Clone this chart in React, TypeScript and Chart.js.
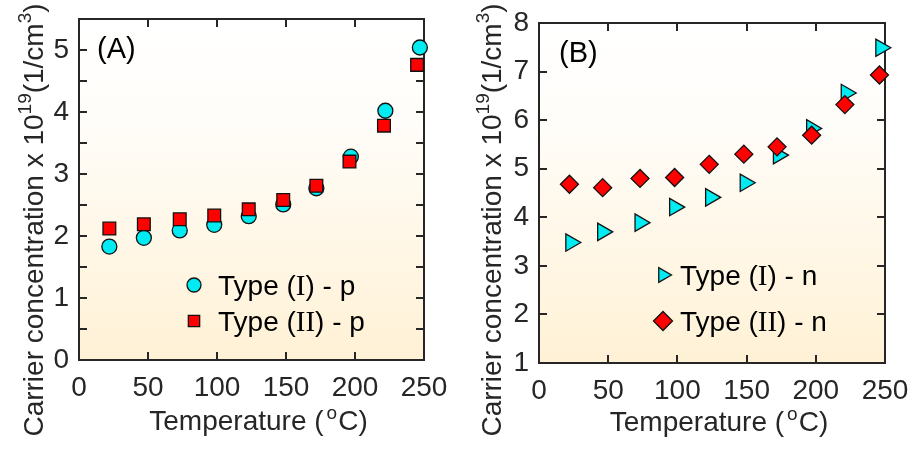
import React, { useEffect, useRef } from 'react';
import { Chart, registerables } from 'chart.js';
import { drawPoint } from 'chart.js/helpers';

Chart.register(...registerables);

const SANS = '"Liberation Sans", Arial, sans-serif';
const SERIF = '"Liberation Serif", "Times New Roman", serif';
const INK = '#262626';
const CYAN = '#00ebf2';
const RED = '#ff0000';
const EDGE = '#111111';

// ---------- Panel A (p-type) ----------
const tempA_I = [22, 47, 73, 98, 123, 148, 172, 197, 222, 247];
const tempA_II = [22, 47, 73, 98, 123, 148, 172, 196, 221, 245];
const typeI_p = [1.83, 1.97, 2.09, 2.18, 2.32, 2.51, 2.77, 3.28, 4.02, 5.04];
const typeII_p = [2.12, 2.19, 2.27, 2.33, 2.43, 2.58, 2.81, 3.2, 3.78, 4.76];

// ---------- Panel B (n-type) ----------
const tempB_I = [23, 46, 73, 98, 124, 149, 173, 197, 222, 247];
const tempB_II = [22, 46, 73, 98, 123, 148, 172, 197, 221, 246];
const typeI_n = [3.48, 3.7, 3.89, 4.21, 4.41, 4.71, 5.28, 5.83, 6.56, 7.49];
const typeII_n = [4.68, 4.61, 4.8, 4.82, 5.09, 5.3, 5.45, 5.69, 6.32, 6.93];

const xTickMin = 0;
const xTickMax = 250;
const xTickStep = 50;

const legendA = [
  { roman: 'I', suffix: ') - p', style: 'circle', radius: 7, rotation: 0, color: CYAN },
  { roman: 'II', suffix: ') - p', style: 'rect', radius: 8, rotation: 0, color: RED },
];
const legendB = [
  { roman: 'I', suffix: ') - n', style: 'triangle', radius: 8.5, rotation: 90, color: CYAN },
  { roman: 'II', suffix: ') - n', style: 'rectRot', radius: 9.5, rotation: 0, color: RED },
];

type Part = { text: string; font: string; dy?: number; dx?: number };

function drawRich(ctx: CanvasRenderingContext2D, parts: Part[], x: number, y: number, align: 'center' | 'left') {
  ctx.textAlign = 'left';
  ctx.textBaseline = 'alphabetic';
  let total = 0;
  for (const p of parts) {
    ctx.font = p.font;
    total += ctx.measureText(p.text).width + (p.dx || 0);
  }
  let cx = align === 'center' ? x - total / 2 : x;
  for (const p of parts) {
    ctx.font = p.font;
    cx += p.dx || 0;
    ctx.fillText(p.text, cx, y + (p.dy || 0));
    cx += ctx.measureText(p.text).width;
  }
}

const F = (s: number, fam = SANS) => `${s}px ${fam}`;

function makePlugin(cfg: any) {
  return {
    id: 'panelDeco' + cfg.label,
    beforeDraw(chart: any) {
      const { ctx, chartArea: a } = chart;
      ctx.save();
      const g = ctx.createLinearGradient(0, a.top, 0, a.bottom);
      g.addColorStop(0, '#ffffff');
      g.addColorStop(0.3, '#fffdf9');
      g.addColorStop(1, '#fff1d5');
      ctx.fillStyle = g;
      ctx.fillRect(a.left, a.top, a.right - a.left, a.bottom - a.top);
      ctx.restore();
    },
    beforeDatasetsDraw(chart: any) {
      const { ctx, chartArea: a, scales } = chart;
      ctx.save();
      ctx.strokeStyle = INK;
      ctx.lineWidth = 2;
      const tl = 8;
      ctx.beginPath();
      for (const t of scales.x.ticks) {
        if (t.value <= scales.x.min || t.value >= scales.x.max) continue;
        const px = Math.round(scales.x.getPixelForValue(t.value));
        ctx.moveTo(px, a.bottom);
        ctx.lineTo(px, a.bottom - tl);
        ctx.moveTo(px, a.top);
        ctx.lineTo(px, a.top + tl);
      }
      for (const t of scales.y.ticks) {
        if (t.value <= scales.y.min || t.value >= scales.y.max) continue;
        const py = Math.round(scales.y.getPixelForValue(t.value));
        ctx.moveTo(a.left, py);
        ctx.lineTo(a.left + tl, py);
        ctx.moveTo(a.right, py);
        ctx.lineTo(a.right - tl, py);
      }
      ctx.stroke();
      ctx.strokeRect(a.left, a.top, a.right - a.left, a.bottom - a.top);
      ctx.restore();
    },
    afterDraw(chart: any) {
      const { ctx, chartArea: a } = chart;
      ctx.save();
      ctx.fillStyle = '#000';
      // panel label
      ctx.font = F(29);
      ctx.textAlign = 'left';
      ctx.textBaseline = 'alphabetic';
      ctx.fillText(cfg.label, a.left + cfg.labelDx, a.top + 39);

      // legend
      cfg.legend.forEach((item: any, i: number) => {
        const my = a.top + cfg.legendTop + i * cfg.legendGap;
        const mx = a.left + cfg.legendDx;
        ctx.fillStyle = item.color;
        ctx.strokeStyle = EDGE;
        ctx.lineWidth = 1.3;
        drawPoint(ctx, { pointStyle: item.style, radius: item.radius, rotation: item.rotation, borderWidth: 1.3 }, mx, my);
        ctx.fillStyle = '#000';
        drawRich(
          ctx,
          [
            { text: 'Type (', font: F(28) },
            { text: item.roman, font: F(29, SERIF) },
            { text: item.suffix, font: F(28) },
          ],
          mx + cfg.textGap,
          my + 10,
          'left'
        );
      });

      // axis titles
      ctx.fillStyle = INK;
      drawRich(
        ctx,
        [
          { text: 'Temperature (', font: F(28) },
          { text: 'o', font: F(19), dy: -11, dx: 3 },
          { text: 'C)', font: F(28), dx: 1 },
        ],
        (a.left + a.right) / 2 + 7,
        a.bottom + cfg.xTitleDy,
        'center'
      );
      ctx.save();
      ctx.translate(cfg.yTitleX, chart.height / 2 - 7);
      ctx.rotate(-Math.PI / 2);
      drawRich(
        ctx,
        [
          { text: 'Carrier concentration x 10', font: F(28) },
          { text: '19', font: F(19), dy: -12 },
          { text: '(1/cm', font: F(28) },
          { text: '3', font: F(19), dy: -12 },
          { text: ')', font: F(28) },
        ],
        0,
        10,
        'center'
      );
      ctx.restore();
      ctx.restore();
    },
  };
}

function buildConfig(cfg: any) {
  return {
    type: 'scatter',
    data: { datasets: cfg.datasets },
    options: {
      responsive: false,
      animation: false,
      events: [],
      layout: { autoPadding: false, padding: { left: 0, top: cfg.padTop, right: cfg.padRight, bottom: 0 } },
      plugins: { legend: { display: false }, tooltip: { enabled: false } },
      scales: {
        x: {
          type: 'linear',
          min: xTickMin,
          max: xTickMax,
          grid: { display: false, drawTicks: false },
          border: { display: false },
          ticks: {
            stepSize: xTickStep,
            autoSkip: false,
            maxRotation: 0,
            padding: 11,
            color: INK,
            font: { family: SANS, size: 28 },
          },
          afterFit: (s: any) => {
            s.height = cfg.xHeight;
            s.paddingLeft = 0;
            s.paddingRight = 0;
          },
        },
        y: {
          type: 'linear',
          min: cfg.yMin,
          max: cfg.yMax,
          grid: { display: false, drawTicks: false },
          border: { display: false },
          ticks: {
            stepSize: cfg.yStep,
            autoSkip: false,
            padding: 10,
            color: INK,
            font: { family: SANS, size: 28 },
            callback: (v: number) => (Number.isInteger(v) ? String(v) : ''),
          },
          afterFit: (s: any) => {
            s.width = cfg.yWidth;
            s.paddingTop = 0;
            s.paddingBottom = 0;
          },
        },
      },
    },
    plugins: [makePlugin(cfg)],
  };
}

const pts = (xs: number[], ys: number[]) => xs.map((x, i) => ({ x, y: ys[i] }));

const panelA = {
  label: '(A)',
  yMin: 0,
  yMax: 5.5,
  yStep: 0.5,
  padTop: 19,
  padRight: 34,
  xHeight: 94,
  yWidth: 79,
  labelDx: 18,
  legendDx: 115,
  legendTop: 266,
  legendGap: 36,
  textGap: 24,
  xTitleDy: 70,
  yTitleX: 33,
  legend: legendA,
  datasets: [
    {
      label: 'Type (I) - p',
      data: pts(tempA_I, typeI_p),
      pointStyle: 'circle',
      pointRadius: 7.5,
      backgroundColor: CYAN,
      borderColor: EDGE,
      borderWidth: 1.3,
      showLine: false,
      clip: false,
      order: 1,
    },
    {
      label: 'Type (II) - p',
      data: pts(tempA_II, typeII_p),
      pointStyle: 'rect',
      pointRadius: 9,
      backgroundColor: RED,
      borderColor: EDGE,
      borderWidth: 1.3,
      showLine: false,
      clip: false,
      order: 0,
    },
  ],
};

const panelB = {
  label: '(B)',
  yMin: 1,
  yMax: 8,
  yStep: 1,
  padTop: 23,
  padRight: 31,
  xHeight: 91,
  yWidth: 81,
  labelDx: 20,
  legendDx: 124,
  legendTop: 252,
  legendGap: 46,
  textGap: 17,
  xTitleDy: 68,
  yTitleX: 33,
  legend: legendB,
  datasets: [
    {
      label: 'Type (I) - n',
      data: pts(tempB_I, typeI_n),
      pointStyle: 'triangle',
      pointRotation: 90,
      pointRadius: 10,
      backgroundColor: CYAN,
      borderColor: EDGE,
      borderWidth: 1.3,
      showLine: false,
      clip: false,
      order: 1,
    },
    {
      label: 'Type (II) - n',
      data: pts(tempB_II, typeII_n),
      pointStyle: 'rectRot',
      pointRadius: 9,
      backgroundColor: RED,
      borderColor: EDGE,
      borderWidth: 1.3,
      showLine: false,
      clip: false,
      order: 0,
    },
  ],
};

function ChartPanel({ cfg }: { cfg: any }) {
  const ref = useRef<HTMLCanvasElement | null>(null);
  useEffect(() => {
    if (!ref.current) return;
    const chart = new Chart(ref.current, buildConfig(cfg) as any);
    return () => chart.destroy();
  }, [cfg]);
  return <canvas ref={ref} width={458} height={454} style={{ width: 458, height: 454, display: 'block' }} />;
}

export default function App() {
  return (
    <div style={{ position: 'absolute', left: 0, top: 0, width: 916, height: 454, display: 'flex', background: '#fff' }}>
      <ChartPanel cfg={panelA} />
      <ChartPanel cfg={panelB} />
    </div>
  );
}
